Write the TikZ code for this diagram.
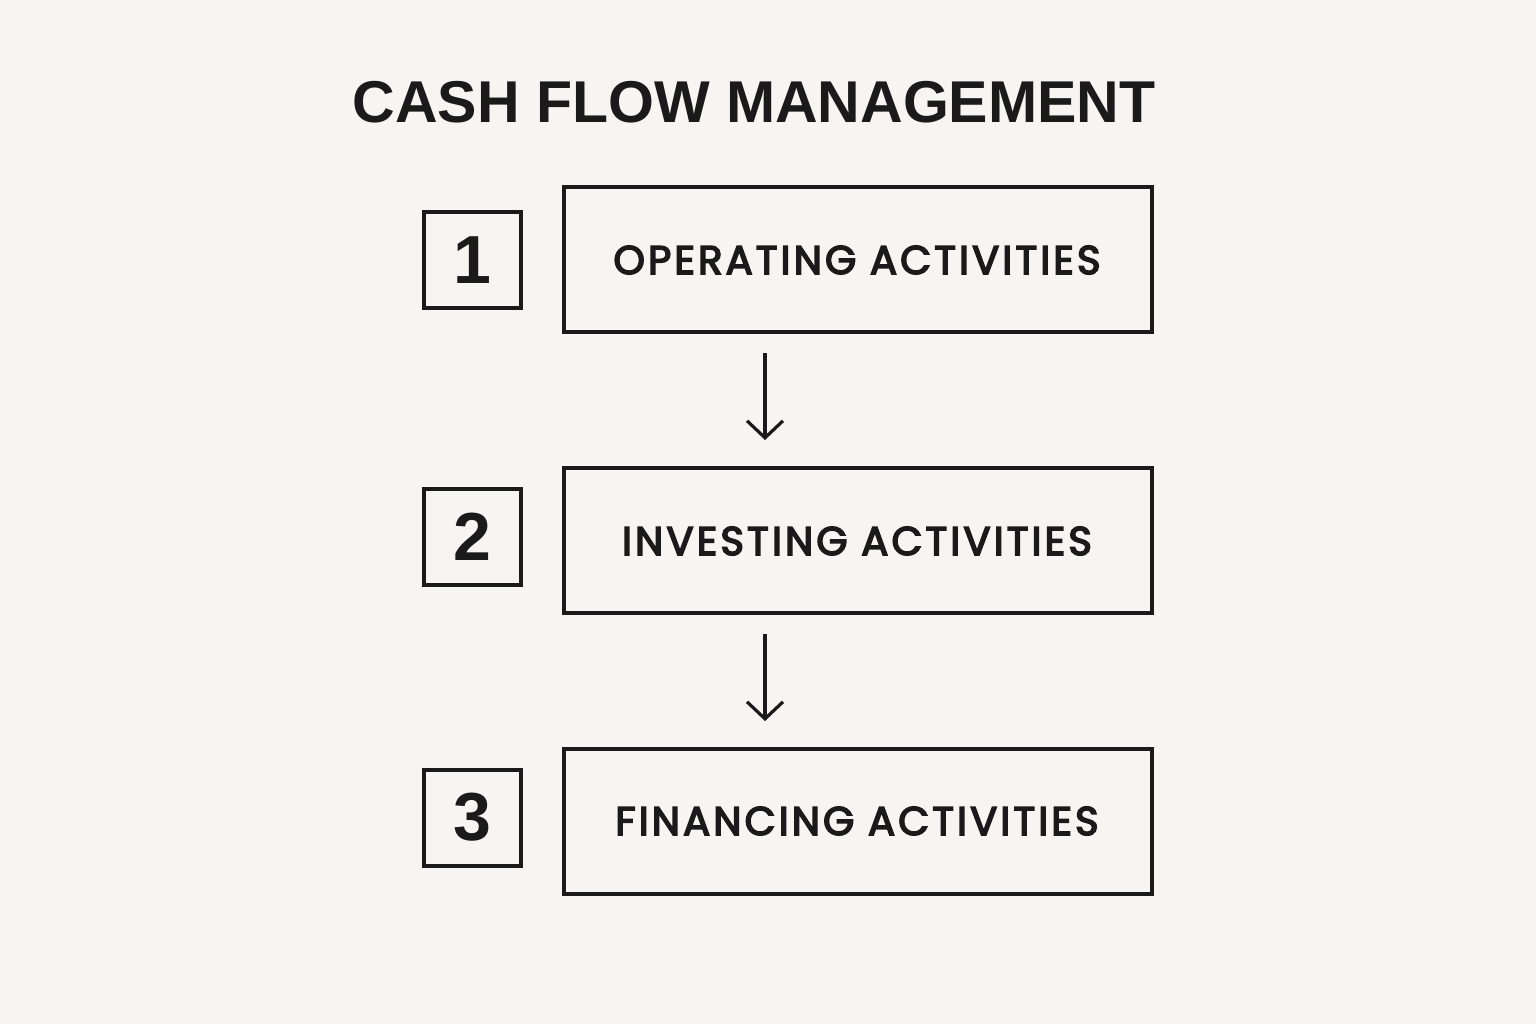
\documentclass[tikz,border=0pt]{standalone}
\usepackage{fontspec}
\setmainfont{Liberation Sans}
\newfontfamily\labelfont[LetterSpace=8,FakeBold=4]{Poppins}
\usetikzlibrary{arrows.meta}
\definecolor{bg}{HTML}{F7F5F1}
\definecolor{ink}{HTML}{1A1A1A}
\tikzset{
  stepbox/.style={draw=ink, line width=4pt, minimum width=588pt, minimum height=145pt, inner sep=0pt},
  numbox/.style={draw=ink, line width=4pt, minimum width=97pt, minimum height=96pt, inner sep=0pt,
    font=\fontsize{68}{68}\selectfont\bfseries, text=ink},
  steplabel/.style={font=\labelfont\fontsize{40}{40}\selectfont, text=ink},
  flow/.style={draw=ink, line width=3.2pt, -{Straight Barb[length=17pt,width=36pt,line width=3.2pt]}},
}
\begin{document}
\begin{tikzpicture}[x=1pt,y=-1pt]
\fill[bg] (0,0) rectangle (1536,1024);
\useasboundingbox (0,0) rectangle (1536,1024);
\node[font=\fontsize{59}{59}\selectfont\bfseries, text=ink] (title) at (754,102) {CASH FLOW MANAGEMENT};
\node[stepbox] (s1) at (858,259.5) {};
\node[stepbox] (s2) at (858,540.5) {};
\node[stepbox] (s3) at (858,821) {};
\node[steplabel] at (857,260) {OPERATING ACTIVITIES};
\node[steplabel] at (857,541) {INVESTING ACTIVITIES};
\node[steplabel] at (857,821) {FINANCING ACTIVITIES};
\node[numbox] (n1) at (472.5,260) {1};
\node[numbox] (n2) at (472.5,536.5) {2};
\node[numbox] (n3) at (472.5,817.5) {3};
\coordinate (a1s) at (765,353);
\coordinate (a1e) at (765,440);
\coordinate (a2s) at (765,634);
\coordinate (a2e) at (765,721);
\draw[flow] (a1s) -- (a1e);
\draw[flow] (a2s) -- (a2e);
\end{tikzpicture}
\end{document}
